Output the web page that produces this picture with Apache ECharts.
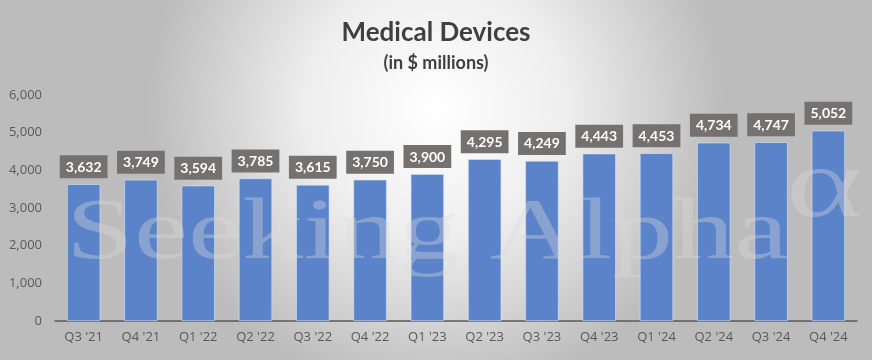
<!DOCTYPE html>
<html><head><meta charset="utf-8">
<script src="https://cdn.jsdelivr.net/npm/echarts@6/dist/echarts.min.js"></script>
<style>html,body{margin:0;padding:0;}#c{width:872px;height:360px;}</style>
</head><body><div id="c"></div>
<script>
const categories = ["Q3 '21","Q4 '21","Q1 '22","Q2 '22","Q3 '22","Q4 '22","Q1 '23","Q2 '23","Q3 '23","Q4 '23","Q1 '24","Q2 '24","Q3 '24","Q4 '24"];
const values = [3632,3749,3594,3785,3615,3750,3900,4295,4249,4443,4453,4734,4747,5052];
const titleText = "Medical Devices";
const subtitleText = "(in $ millions)";
const watermarkText = "Seeking Alpha";
const watermarkSymbol = "\u03B1";

const chart = echarts.init(document.getElementById('c'));
chart.setOption({
  animation: false,
  backgroundColor: {
    type: 'radial', x: 0.5, y: 0.3, r: 0.8,
    colorStops: [{offset: 0, color: '#ffffff'}, {offset: 0.45, color: '#eeeeee'}, {offset: 1, color: '#bcbcbc'}]
  },
  title: {
    text: titleText, subtext: subtitleText, left: 'center', top: 15, itemGap: 8,
    textStyle: {fontFamily: 'Lato', fontWeight: 'bold', fontSize: 26, color: '#404040'},
    subtextStyle: {fontFamily: 'Lato', fontWeight: 'bold', fontSize: 18, color: '#404040'}
  },
  graphic: [{
    type: 'text', x: 66, y: 192, scaleX: 1.42, silent: true, z: 100,
    style: {text: watermarkText, font: '86px "Liberation Serif"', fill: 'rgba(220,220,220,0.36)', verticalAlign: 'top'}
  }, {
    type: 'text', x: 786, y: 140, scaleX: 1.45, silent: true, z: 100,
    style: {text: watermarkSymbol, font: '100px "Liberation Serif"', fill: 'rgba(220,220,220,0.36)', verticalAlign: 'top'}
  }],
  grid: {left: 55, right: 15, top: 95, bottom: 39},
  xAxis: {
    type: 'category', data: categories,
    axisLine: {lineStyle: {color: '#595959', width: 1.5}},
    axisTick: {show: false},
    axisLabel: {color: '#595959', fontSize: 13, fontFamily: 'Open Sans', margin: 10}
  },
  yAxis: {
    type: 'value', min: 0, max: 6000, interval: 1000,
    splitLine: {show: false}, axisLine: {show: false}, axisTick: {show: false},
    axisLabel: {color: '#595959', fontSize: 13, fontFamily: 'Open Sans', margin: 13,
      formatter: v => v.toLocaleString('en-US')}
  },
  series: [{
    type: 'bar', data: values, barWidth: '58%', z: 2,
    itemStyle: {color: '#5b83c9', borderColor: '#dbe4f5', borderWidth: 0.6},
    label: {
      show: true, position: 'top', distance: 6,
      formatter: p => p.value.toLocaleString('en-US'),
      color: '#ffffff', fontWeight: 'bold', fontSize: 14, fontFamily: 'Lato',
      backgroundColor: '#767171', padding: [5, 6, 4, 6]
    }
  }]
});
</script></body></html>
